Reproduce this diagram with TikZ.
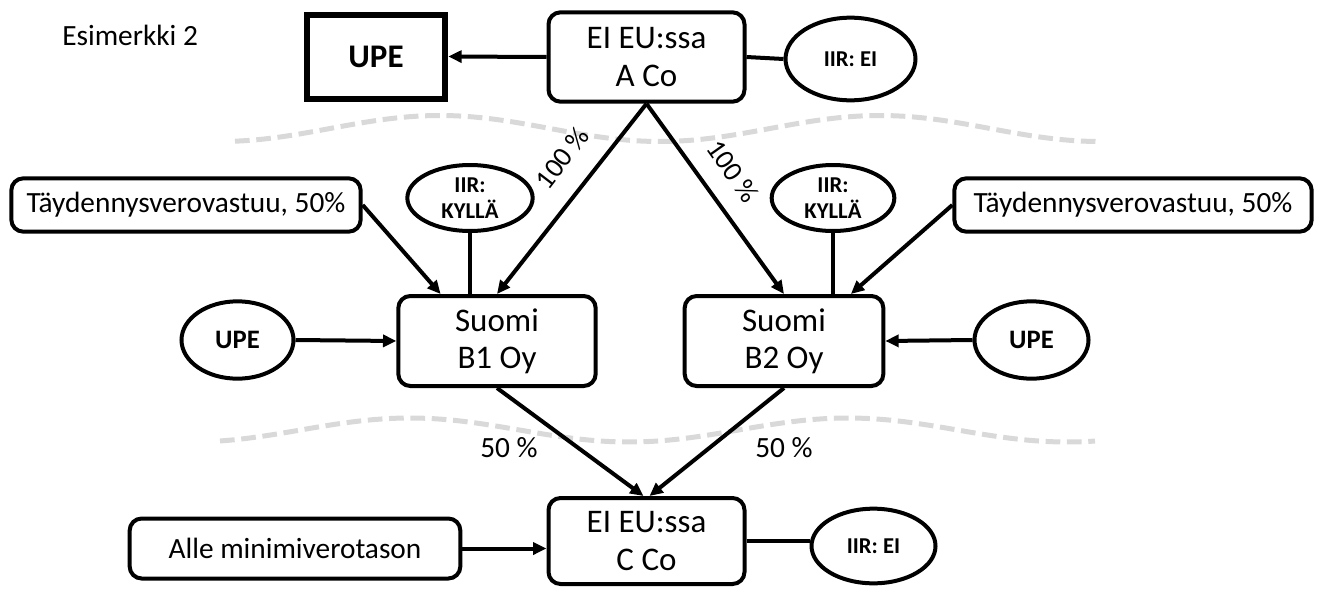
\documentclass[tikz,border=0pt]{standalone}
\usepackage{fontspec}
\setmainfont{Carlito}
\usetikzlibrary{arrows.meta,calc,shapes.geometric}

\begin{document}
\begin{tikzpicture}[x=0.75pt,y=-0.75pt,
  every node/.style={inner sep=0pt, align=center},
  box/.style={draw, line width=3pt, rounded corners=9pt},
  entity/.style={box, minimum width=147pt, minimum height=67pt,
    font=\fontsize{24.75}{28}\selectfont},
  note/.style={box, minimum height=40pt, font=\fontsize{22}{26}\selectfont},
  oval/.style={draw, ellipse, line width=3pt, inner sep=-2pt,
    font=\bfseries\fontsize{17}{20}\selectfont},
  link/.style={line width=3pt},
  arrow/.style={link, -{Triangle[length=10pt,width=9pt]}},
  pct/.style={font=\fontsize{21}{25}\selectfont},
  border/.style={draw=black!15, line width=3.75pt, dash pattern=on 11pt off 5pt}
]
\useasboundingbox (0,0) rectangle (1320,589);

% jurisdiction borders
\draw[border] plot[domain=235:1100, samples=120]
  (\x, {128.5-13*cos((\x-440)*0.81818)});
\draw[border] plot[domain=220:1095, samples=120]
  (\x, {430-12*cos((\x-410)*0.82192)});

% title
\node[anchor=base west, font=\fontsize{22}{26}\selectfont] (title) at (62,45) {Esimerkki 2};

% top level
\node[draw, line width=4.5pt, minimum width=104pt, minimum height=63pt,
  font=\bfseries\fontsize{24.75}{29}\selectfont] (upebox) at (376,56.5) {UPE};
\node[entity] (aco) at (646.5,57) {EI EU:ssa\\A Co};
\node[oval, minimum width=97.5pt, minimum height=62pt] (iirA) at (850.5,59) {IIR: EI};

% middle level
\node[note, minimum width=262pt] (tayL) at (186,205) {Täydennysverovastuu, 50\%};
\node[oval, minimum width=94pt, minimum height=49.5pt] (kylL) at (470,198) {IIR:\\KYLLÄ};
\node[entity, minimum width=148pt, minimum height=67.5pt] (b1) at (497,341) {Suomi\\B1 Oy};
\node[entity, minimum width=149pt, minimum height=67.5pt] (b2) at (784,341) {Suomi\\B2 Oy};
\node[oval, minimum width=92pt, minimum height=49.5pt] (kylR) at (833,198) {IIR:\\KYLLÄ};
\node[note, minimum width=268pt] (tayR) at (1133,205) {Täydennysverovastuu, 50\%};
\node[oval, minimum width=84pt, minimum height=58pt,
  font=\bfseries\fontsize{20}{24}\selectfont] (upeL) at (237.5,340) {UPE};
\node[oval, minimum width=85.5pt, minimum height=58pt,
  font=\bfseries\fontsize{20}{24}\selectfont] (upeR) at (1031.5,340) {UPE};

% bottom level
\node[entity, minimum height=64.5pt] (cco) at (646.5,541) {EI EU:ssa\\C Co};
\node[note, minimum width=248pt, minimum height=45pt] (alle) at (295,548.5) {Alle minimiverotason};
\node[oval, minimum width=93pt, minimum height=56pt] (iirC) at (873.5,546) {IIR: EI};

% connectors
\draw[arrow] (aco.west) -- (upebox.east);
\draw[link] (aco.east) -- (iirA.west);
\draw[arrow] (aco.south) -- (b1.north);
\draw[arrow] (aco.south) -- (b2.north);
\draw[arrow] (tayL.east) -- ($(b1.north west)!0.22!(b1.north east)$);
\draw[link] (kylL.south) -- (kylL.south |- b1.north);
\draw[arrow] (tayR.west) -- ($(b2.north west)!0.83!(b2.north east)$);
\draw[link] (kylR.south) -- (kylR.south |- b2.north);
\draw[arrow] (upeL.east) -- (b1.west);
\draw[arrow] (upeR.west) -- (b2.east);
\draw[arrow] (b1.south) -- ($(cco.north)+(-3,0)$);
\draw[arrow] (b2.south) -- ($(cco.north)+(3,0)$);
\draw[arrow] (alle.east) -- (alle.east -| cco.west);
\draw[link] (cco.east) -- (cco.east -| iirC.west);

% ownership shares
\node[pct, rotate=52.5] (p1) at (562,158) {100 \%};
\node[pct, rotate=-54.7] (p2) at (733,171) {100 \%};
\node[font=\fontsize{22}{26}\selectfont] (p3) at (509,448) {50 \%};
\node[font=\fontsize{22}{26}\selectfont] (p4) at (784,448) {50 \%};
\end{tikzpicture}
\end{document}
